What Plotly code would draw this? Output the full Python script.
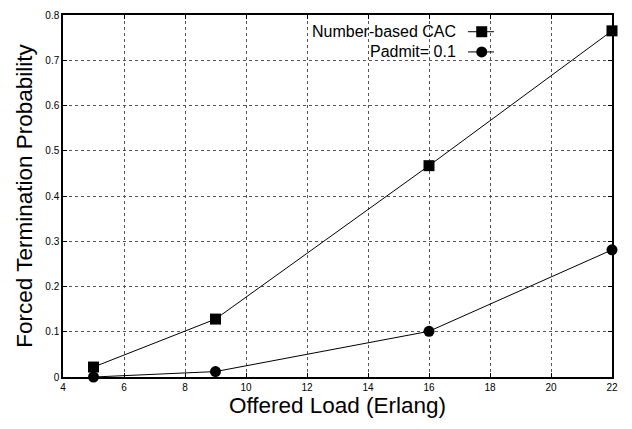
import plotly.graph_objects as go

offered_load = [5, 9, 16, 22]
number_based_cac = [0.022, 0.128, 0.467, 0.765]
padmit_01 = [0.0, 0.012, 0.101, 0.281]
series_names = ["Number-based CAC", "Padmit= 0.1"]
x_ticks = [4, 6, 8, 10, 12, 14, 16, 18, 20, 22]
y_ticks = [0, 0.1, 0.2, 0.3, 0.4, 0.5, 0.6, 0.7, 0.8]

FONT = "Liberation Sans, Arial, sans-serif"

fig = go.Figure()
fig.add_trace(go.Scatter(x=offered_load, y=number_based_cac, mode="lines+markers",
                         name=series_names[0], line=dict(color="black", width=1),
                         marker=dict(symbol="square", size=11, color="black"),
                         cliponaxis=False))
fig.add_trace(go.Scatter(x=offered_load, y=padmit_01, mode="lines+markers",
                         name=series_names[1], line=dict(color="black", width=1),
                         marker=dict(symbol="circle", size=11, color="black"),
                         cliponaxis=False))

axis_common = dict(showline=True, linecolor="black", linewidth=1.5, mirror="ticks",
                   showgrid=True, gridcolor="#555", griddash="3px,3px", gridwidth=1,
                   zeroline=False, ticks="inside", ticklen=4, tickwidth=1, tickcolor="black",
                   tickfont=dict(size=10, color="black", family=FONT))

fig.update_xaxes(range=[4, 22], tickvals=x_ticks,
                 title=dict(text="Offered Load (Erlang)", font=dict(size=22.5, family=FONT, color="black"), standoff=4),
                 **axis_common)
fig.update_yaxes(range=[0, 0.8], tickvals=y_ticks, ticktext=[f"{v:g}" for v in y_ticks],
                 title=dict(text="Forced Termination Probability", font=dict(size=22.5, family=FONT, color="black"), standoff=6),
                 **axis_common)

# custom legend (text left of symbol, as in reference)
legend_rows = [(0.9538, "square"), (0.898, "circle")]
for name, (yp, sym) in zip(series_names, legend_rows):
    fig.add_annotation(xref="paper", yref="paper", x=0.7168, y=yp, text=name, showarrow=False,
                       xanchor="right", yanchor="middle", font=dict(size=16, family=FONT, color="black"),
                       borderpad=0)
    fig.add_shape(type="line", xref="paper", yref="paper", x0=0.7377, x1=0.785, y0=yp, y1=yp,
                  line=dict(color="black", width=1))
    fig.add_shape(type="rect" if sym == "square" else "circle", xref="paper", yref="paper",
                  xsizemode="pixel", ysizemode="pixel", xanchor=0.7627, yanchor=yp,
                  x0=-5.5, x1=5.5, y0=-5.5, y1=5.5, fillcolor="black", line=dict(color="black", width=0))

fig.update_layout(width=632, height=429, margin=dict(l=63, r=20, t=9, b=52),
                  plot_bgcolor="white", paper_bgcolor="white", showlegend=False,
                  font=dict(family=FONT, color="black"))

fig.write_html("out.html", config={"displayModeBar": False},
               post_script="document.body.style.margin='0';document.body.style.overflow='hidden';")
